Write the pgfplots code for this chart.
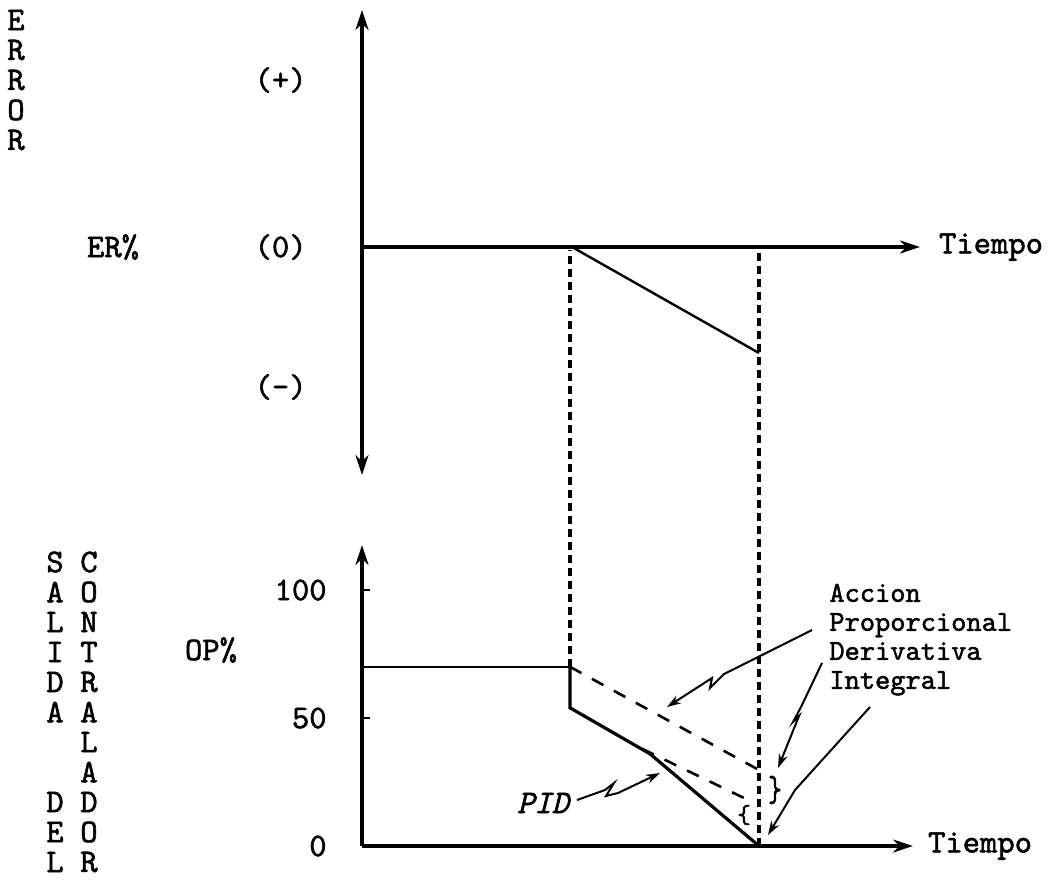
\documentclass[border=0pt]{standalone}
\usepackage{fontspec}
\newfontfamily\typew{lmmono10-regular.otf}[FakeBold=1.6]
\newfontfamily\typewit{lmmono10-italic.otf}[FakeBold=1.6]
\usepackage{pgfplots}
\pgfplotsset{compat=1.18}
\usetikzlibrary{arrows.meta}
\newcommand\tw{\fontsize{16.5pt}{15pt}\selectfont\typew}
\begin{document}
\begin{tikzpicture}[x=0.5pt,y=-0.5pt, font=\tw]
\useasboundingbox (0,0) rectangle (1055,880);
% ---------------- top: error ----------------
\begin{axis}[
  at={(181pt,-237.5pt)}, anchor=south west,
  scale only axis, width=279pt, height=232.5pt,
  xmin=0, xmax=5.58, ymin=-4.56, ymax=4.74,
  axis lines=middle,
  axis line style={line width=1.7pt},
  x axis line style={-{Stealth[length=10pt,width=6.5pt]}},
  y axis line style={{Stealth[length=10pt,width=6.5pt]}-{Stealth[length=10pt,width=6.5pt]}},
  xtick=\empty,
  ytick={-2.8,0,3.34}, yticklabels={(-),(0),(+)},
  hide obscured y ticks=false,
  major tick length=0pt,
  yticklabel style={anchor=east, inner sep=0pt, xshift=-27.5pt, font=\tw},
  /pgf/number format/assume math mode=true,
  xlabel={Tiempo},
  xlabel style={at={(rel axis cs:1,0.4903)}, anchor=west, xshift=6pt, font=\tw},
  clip=false,
]
\addplot[line width=1.2pt] coordinates {(2.10,0) (3.97,-2.12)};
\end{axis}
% ---------------- bottom: controller output ----------------
\begin{axis}[
  at={(181pt,-423pt)}, anchor=south west,
  scale only axis, width=275.5pt, height=150.5pt,
  xmin=0, xmax=5.51, ymin=0, ymax=117.6,
  axis lines=left,
  axis line style={line width=1.7pt},
  x axis line style={-{Stealth[length=10pt,width=6.5pt]}},
  y axis line style={-{Stealth[length=10pt,width=6.5pt]}},
  xtick=\empty,
  ytick={0,50,100},
  tick align=inside, major tick length=4pt,
  tick style={line width=1pt, black},
  yticklabel style={anchor=east, inner sep=0pt, xshift=-17.5pt, font=\tw},
  /pgf/number format/assume math mode=true,
  xlabel={Tiempo},
  xlabel style={at={(rel axis cs:1,0)}, anchor=west, xshift=4pt, font=\tw},
  clip=false,
]
% controller output before the error appears
\addplot[line width=0.8pt] coordinates {(0,70) (2.08,70)};
% PID response
\addplot[line width=1.6pt] coordinates {(2.08,70) (2.08,54) (2.88,36) (3.97,0)};
% proportional action (dashed)
\addplot[line width=1.3pt, dash pattern=on 6.5pt off 6pt] coordinates {(2.08,70) (3.97,29.7)};
% second dashed component
\addplot[line width=1.3pt, dash pattern=on 6.5pt off 6pt] coordinates {(2.80,38) (3.86,18.0)};
% vertical guide lines linking both graphs
\addplot[line width=1.6pt, dash pattern=on 4pt off 2.5pt] coordinates {(2.08,70) (2.08,232.8)};
\addplot[line width=1.6pt, dash pattern=on 4pt off 2.5pt] coordinates {(3.97,0) (3.97,232.8)};
\end{axis}
% ---------------- labels ----------------
\foreach \l [count=\i] in {E,R,R,O,R}
  \node at (16,{20+30*(\i-1)}) {\l};
\node at (113,247) {ER\%};
\node at (211,650) {OP\%};
\foreach \l/\k in {S/0,A/1,L/2,I/3,D/4,A/5,D/8,E/9,L/10}
  \node at (55,{562+30*\k}) {\l};
\foreach \l [count=\i] in {C,O,N,T,R,A,L,A,D,O,R}
  \node at (89,{562+30*(\i-1)}) {\l};
\foreach \t/\yy in {Accion/596,Proporcional/625,Derivativa/654,Integral/683}
  \node[anchor=west, inner sep=0pt, font=\fontsize{14.5pt}{14.5pt}\selectfont\typew]
    at (829,\yy) {\strut\t};
\node[font=\fontsize{16.5pt}{15pt}\selectfont\typewit] at (543,803) {PID};
\node[font=\fontsize{13pt}{13pt}\selectfont\typew] at (744,815) {\{};
\node[font=\fontsize{13pt}{13pt}\selectfont\typew, yscale=1.4] at (775,790) {\}};
% annotation arrows
\draw[line width=1pt, -{Stealth[length=7pt,width=4.5pt]}]
  (812,630) -- (724,674) -- (710,688) -- (712,678) -- (667,707);
\draw[line width=1pt, -{Stealth[length=7pt,width=4.5pt]}]
  (822,663) -- (801,707) -- (793,722) -- (799,716) -- (778,768);
\draw[line width=1pt, -{Stealth[length=7pt,width=4.5pt]}]
  (870,707) -- (795,790) -- (768,835);
\draw[line width=1pt, -{Stealth[length=7pt,width=4.5pt]}]
  (577,800) -- (605,790) -- (614,783) -- (606,796) -- (618,793) -- (660,773);
\end{tikzpicture}
\end{document}
